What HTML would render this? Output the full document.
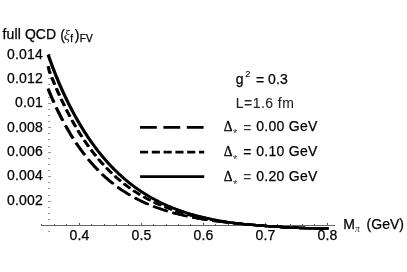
<!DOCTYPE html>
<html><head><meta charset="utf-8"><title>plot</title>
<style>
html,body{margin:0;padding:0;background:#fff;}
body{width:407px;height:272px;overflow:hidden;}
svg{display:block;will-change:transform;}
text{font-family:"Liberation Sans",sans-serif;font-size:14px;fill:#000;stroke:#000;stroke-width:0.25px;}
.ser{font-family:"Liberation Serif",serif;}
</style></head><body>
<svg width="407" height="272" viewBox="0 0 407 272">
<rect width="407" height="272" fill="#fff"/>

<line x1="41" y1="225.5" x2="335" y2="225.5" stroke="#666" stroke-width="1"/>
<line x1="41.5" y1="225.5" x2="41.5" y2="224.00" stroke="#555" stroke-width="1"/>
<line x1="54.5" y1="225.5" x2="54.5" y2="224.00" stroke="#555" stroke-width="1"/>
<line x1="66.5" y1="225.5" x2="66.5" y2="224.00" stroke="#555" stroke-width="1"/>
<line x1="79.5" y1="225.5" x2="79.5" y2="222.90" stroke="#555" stroke-width="1"/>
<line x1="91.5" y1="225.5" x2="91.5" y2="224.00" stroke="#555" stroke-width="1"/>
<line x1="104.5" y1="225.5" x2="104.5" y2="224.00" stroke="#555" stroke-width="1"/>
<line x1="116.5" y1="225.5" x2="116.5" y2="224.00" stroke="#555" stroke-width="1"/>
<line x1="128.5" y1="225.5" x2="128.5" y2="224.00" stroke="#555" stroke-width="1"/>
<line x1="141.5" y1="225.5" x2="141.5" y2="222.90" stroke="#555" stroke-width="1"/>
<line x1="153.5" y1="225.5" x2="153.5" y2="224.00" stroke="#555" stroke-width="1"/>
<line x1="166.5" y1="225.5" x2="166.5" y2="224.00" stroke="#555" stroke-width="1"/>
<line x1="178.5" y1="225.5" x2="178.5" y2="224.00" stroke="#555" stroke-width="1"/>
<line x1="190.5" y1="225.5" x2="190.5" y2="224.00" stroke="#555" stroke-width="1"/>
<line x1="203.5" y1="225.5" x2="203.5" y2="222.90" stroke="#555" stroke-width="1"/>
<line x1="215.5" y1="225.5" x2="215.5" y2="224.00" stroke="#555" stroke-width="1"/>
<line x1="228.5" y1="225.5" x2="228.5" y2="224.00" stroke="#555" stroke-width="1"/>
<line x1="240.5" y1="225.5" x2="240.5" y2="224.00" stroke="#555" stroke-width="1"/>
<line x1="252.5" y1="225.5" x2="252.5" y2="224.00" stroke="#555" stroke-width="1"/>
<line x1="265.5" y1="225.5" x2="265.5" y2="222.90" stroke="#555" stroke-width="1"/>
<line x1="277.5" y1="225.5" x2="277.5" y2="224.00" stroke="#555" stroke-width="1"/>
<line x1="290.5" y1="225.5" x2="290.5" y2="224.00" stroke="#555" stroke-width="1"/>
<line x1="302.5" y1="225.5" x2="302.5" y2="224.00" stroke="#555" stroke-width="1"/>
<line x1="314.5" y1="225.5" x2="314.5" y2="224.00" stroke="#555" stroke-width="1"/>
<line x1="327.5" y1="225.5" x2="327.5" y2="222.90" stroke="#555" stroke-width="1"/>
<line x1="48" y1="231.5" x2="50.00" y2="231.5" stroke="#999" stroke-width="1"/>
<line x1="48" y1="219.5" x2="50.00" y2="219.5" stroke="#999" stroke-width="1"/>
<line x1="48" y1="213.5" x2="50.00" y2="213.5" stroke="#999" stroke-width="1"/>
<line x1="48" y1="207.5" x2="50.00" y2="207.5" stroke="#999" stroke-width="1"/>
<line x1="48" y1="201.5" x2="51.00" y2="201.5" stroke="#999" stroke-width="1"/>
<line x1="48" y1="195.5" x2="50.00" y2="195.5" stroke="#999" stroke-width="1"/>
<line x1="48" y1="188.5" x2="50.00" y2="188.5" stroke="#999" stroke-width="1"/>
<line x1="48" y1="182.5" x2="50.00" y2="182.5" stroke="#999" stroke-width="1"/>
<line x1="48" y1="176.5" x2="51.00" y2="176.5" stroke="#999" stroke-width="1"/>
<line x1="48" y1="170.5" x2="50.00" y2="170.5" stroke="#999" stroke-width="1"/>
<line x1="48" y1="164.5" x2="50.00" y2="164.5" stroke="#999" stroke-width="1"/>
<line x1="48" y1="158.5" x2="50.00" y2="158.5" stroke="#999" stroke-width="1"/>
<line x1="48" y1="152.5" x2="51.00" y2="152.5" stroke="#999" stroke-width="1"/>
<line x1="48" y1="146.5" x2="50.00" y2="146.5" stroke="#999" stroke-width="1"/>
<line x1="48" y1="139.5" x2="50.00" y2="139.5" stroke="#999" stroke-width="1"/>
<line x1="48" y1="133.5" x2="50.00" y2="133.5" stroke="#999" stroke-width="1"/>
<line x1="48" y1="127.5" x2="51.00" y2="127.5" stroke="#999" stroke-width="1"/>
<line x1="48" y1="121.5" x2="50.00" y2="121.5" stroke="#999" stroke-width="1"/>
<line x1="48" y1="115.5" x2="50.00" y2="115.5" stroke="#999" stroke-width="1"/>
<line x1="48" y1="109.5" x2="50.00" y2="109.5" stroke="#999" stroke-width="1"/>
<line x1="48" y1="103.5" x2="51.00" y2="103.5" stroke="#999" stroke-width="1"/>
<line x1="48" y1="97.5" x2="50.00" y2="97.5" stroke="#999" stroke-width="1"/>
<line x1="48" y1="90.5" x2="50.00" y2="90.5" stroke="#999" stroke-width="1"/>
<line x1="48" y1="84.5" x2="50.00" y2="84.5" stroke="#999" stroke-width="1"/>
<line x1="48" y1="78.5" x2="51.00" y2="78.5" stroke="#999" stroke-width="1"/>
<line x1="48" y1="72.5" x2="50.00" y2="72.5" stroke="#999" stroke-width="1"/>
<line x1="48" y1="66.5" x2="50.00" y2="66.5" stroke="#999" stroke-width="1"/>
<line x1="48" y1="60.5" x2="50.00" y2="60.5" stroke="#999" stroke-width="1"/>
<line x1="48" y1="54.5" x2="51.00" y2="54.5" stroke="#999" stroke-width="1"/>
<g transform="translate(-0.45,0)" fill="none" stroke="#000" stroke-width="2.4">
<polyline points="48.20,88.72 49.28,91.78 50.36,94.34 51.44,96.85 52.52,99.31 53.61,101.73 54.69,104.10 55.77,106.43 56.85,108.71 57.93,110.95 59.01,113.15 60.09,115.31 61.17,117.42 62.25,119.50 63.34,121.54 64.42,123.54 65.50,125.50 66.58,127.43 67.66,129.32 68.74,131.18 69.82,133.00 70.90,134.78 71.98,136.54 73.06,138.26 74.15,139.94 75.23,141.60 76.31,143.23 77.39,144.82 78.47,146.39 79.55,147.92 80.63,149.43 81.71,150.91 82.79,152.36 83.88,153.78 84.96,155.18 86.04,156.55 87.12,157.90 88.20,159.22 89.28,160.52 90.36,161.79 91.44,163.04 92.52,164.26 93.61,165.46 94.69,166.64 95.77,167.80 96.85,168.93 97.93,170.05 99.01,171.14 100.09,172.22 101.17,173.27 102.25,174.30 103.34,175.32 104.42,176.31 105.50,177.29 106.58,178.25 107.66,179.19 108.74,180.11 109.82,181.01 110.90,181.90 111.98,182.78 113.06,183.63 114.15,184.47 115.23,185.30 116.31,186.10 117.39,186.90 118.47,187.68 119.55,188.44 120.63,189.19 121.71,189.93 122.79,190.65 123.88,191.36 124.96,192.05 126.04,192.74 127.12,193.41 128.20,194.06 129.28,194.71 130.36,195.34 131.44,195.96 132.52,196.57 133.61,197.17 134.69,197.76 135.77,198.33 136.85,198.90 137.93,199.45 139.01,200.00 140.09,200.53 141.17,201.06 142.25,201.57 143.34,202.08 144.42,202.57 145.50,203.06 146.58,203.54 147.66,204.00 148.74,204.46 149.82,204.91 150.90,205.36 151.98,205.79 153.06,206.22 154.15,206.64 155.23,207.05 156.31,207.45 157.39,207.85 158.47,208.23 159.55,208.61 160.63,208.99 161.71,209.36 162.79,209.72 163.88,210.07 164.96,210.42 166.04,210.76 167.12,211.09 168.20,211.42 169.28,211.74 170.36,212.06 171.44,212.37 172.52,212.67 173.61,212.97 174.69,213.26 175.77,213.55 176.85,213.83 177.93,214.11 179.01,214.38 180.09,214.65 181.17,214.91 182.25,215.16 183.34,215.42 184.42,215.66 185.50,215.91 186.58,216.15 187.66,216.38 188.74,216.61 189.82,216.83 190.90,217.06 191.98,217.27 193.06,217.49 194.15,217.69 195.23,217.90 196.31,218.10 197.39,218.30 198.47,218.49 199.55,218.68 200.63,218.87 201.71,219.05 202.79,219.23 203.88,219.41 204.96,219.58 206.04,219.76 207.12,219.92 208.20,220.09 209.28,220.25 210.36,220.41 211.44,220.56 212.52,220.71 213.61,220.86 214.69,221.00 215.77,221.14 216.85,221.27 217.93,221.40 219.01,221.53 220.09,221.65 221.17,221.77 222.25,221.89 223.34,222.01 224.42,222.13 225.50,222.24 226.58,222.36 227.66,222.47 228.74,222.58 229.82,222.69 230.90,222.80 231.98,222.91 233.06,223.02 234.15,223.13 235.23,223.24 236.31,223.35 237.39,223.46 238.47,223.56 239.55,223.67 240.63,223.77 241.71,223.88 242.79,223.98 243.88,224.08 244.96,224.18 246.04,224.28 247.12,224.38 248.20,224.47 249.28,224.57 250.36,224.67 251.44,224.76 252.52,224.86 253.61,224.95 254.69,225.05 255.77,225.14 256.85,225.23 257.93,225.32 259.01,225.41 260.09,225.50 261.17,225.59 262.25,225.68 263.34,225.76 264.42,225.85 265.50,225.93 266.58,226.01 267.66,226.10 268.74,226.18 269.82,226.26 270.90,226.33 271.98,226.41 273.06,226.49 274.15,226.56 275.23,226.64 276.31,226.71 277.39,226.78 278.47,226.85 279.55,226.92 280.63,226.99 281.71,227.05 282.79,227.12 283.88,227.18 284.96,227.24 286.04,227.30 287.12,227.36 288.20,227.42 289.28,227.47 290.36,227.52 291.44,227.58 292.52,227.63 293.61,227.68 294.69,227.72 295.77,227.77 296.85,227.81 297.93,227.85 299.01,227.89 300.09,227.93 301.17,227.97 302.25,228.00 303.34,228.03 304.42,228.06 305.50,228.09 306.58,228.12 307.66,228.14 308.74,228.16 309.82,228.18 310.90,228.20 311.98,228.22 313.06,228.24 314.15,228.25 315.23,228.27 316.31,228.28 317.39,228.29 318.47,228.31 319.55,228.32 320.63,228.33 321.71,228.34 322.79,228.35 323.88,228.36 324.96,228.37 326.04,228.38 327.12,228.39 328.20,228.39" stroke-dasharray="15.0 5.34"/>
<polyline points="48.20,66.20 49.28,70.86 50.36,73.82 51.44,76.56 52.52,79.24 53.61,81.86 54.69,84.44 55.77,86.98 56.85,89.48 57.93,91.93 59.01,94.34 60.09,96.71 61.17,99.04 62.25,101.33 63.34,103.58 64.42,105.79 65.50,107.97 66.58,110.10 67.66,112.20 68.74,114.27 69.82,116.30 70.90,118.29 71.98,120.26 73.06,122.18 74.15,124.08 75.23,125.94 76.31,127.77 77.39,129.57 78.47,131.34 79.55,133.07 80.63,134.78 81.71,136.46 82.79,138.11 83.88,139.73 84.96,141.33 86.04,142.89 87.12,144.43 88.20,145.95 89.28,147.44 90.36,148.90 91.44,150.33 92.52,151.75 93.61,153.13 94.69,154.50 95.77,155.84 96.85,157.16 97.93,158.45 99.01,159.72 100.09,160.98 101.17,162.20 102.25,163.41 103.34,164.60 104.42,165.77 105.50,166.91 106.58,168.04 107.66,169.15 108.74,170.24 109.82,171.30 110.90,172.36 111.98,173.39 113.06,174.40 114.15,175.40 115.23,176.38 116.31,177.34 117.39,178.29 118.47,179.22 119.55,180.13 120.63,181.03 121.71,181.91 122.79,182.78 123.88,183.63 124.96,184.47 126.04,185.29 127.12,186.10 128.20,186.89 129.28,187.67 130.36,188.44 131.44,189.19 132.52,189.93 133.61,190.66 134.69,191.38 135.77,192.08 136.85,192.77 137.93,193.44 139.01,194.11 140.09,194.76 141.17,195.41 142.25,196.04 143.34,196.66 144.42,197.27 145.50,197.86 146.58,198.45 147.66,199.03 148.74,199.60 149.82,200.15 150.90,200.70 151.98,201.24 153.06,201.77 154.15,202.29 155.23,202.79 156.31,203.30 157.39,203.79 158.47,204.27 159.55,204.74 160.63,205.21 161.71,205.67 162.79,206.12 163.88,206.56 164.96,206.99 166.04,207.42 167.12,207.83 168.20,208.24 169.28,208.65 170.36,209.04 171.44,209.43 172.52,209.81 173.61,210.19 174.69,210.55 175.77,210.91 176.85,211.27 177.93,211.62 179.01,211.96 180.09,212.29 181.17,212.62 182.25,212.95 183.34,213.26 184.42,213.58 185.50,213.88 186.58,214.18 187.66,214.48 188.74,214.77 189.82,215.05 190.90,215.33 191.98,215.60 193.06,215.87 194.15,216.13 195.23,216.39 196.31,216.65 197.39,216.89 198.47,217.14 199.55,217.38 200.63,217.61 201.71,217.84 202.79,218.07 203.88,218.29 204.96,218.51 206.04,218.72 207.12,218.93 208.20,219.14 209.28,219.34 210.36,219.54 211.44,219.73 212.52,219.92 213.61,220.11 214.69,220.29 215.77,220.47 216.85,220.65 217.93,220.82 219.01,220.99 220.09,221.16 221.17,221.32 222.25,221.48 223.34,221.64 224.42,221.79 225.50,221.95 226.58,222.09 227.66,222.24 228.74,222.38 229.82,222.52 230.90,222.65 231.98,222.79 233.06,222.92 234.15,223.05 235.23,223.17 236.31,223.29 237.39,223.41 238.47,223.53 239.55,223.64 240.63,223.75 241.71,223.86 242.79,223.97 243.88,224.07 244.96,224.18 246.04,224.28 247.12,224.38 248.20,224.47 249.28,224.57 250.36,224.67 251.44,224.76 252.52,224.86 253.61,224.95 254.69,225.05 255.77,225.14 256.85,225.23 257.93,225.32 259.01,225.41 260.09,225.50 261.17,225.59 262.25,225.68 263.34,225.76 264.42,225.85 265.50,225.93 266.58,226.01 267.66,226.10 268.74,226.18 269.82,226.26 270.90,226.33 271.98,226.41 273.06,226.49 274.15,226.56 275.23,226.64 276.31,226.71 277.39,226.78 278.47,226.85 279.55,226.92 280.63,226.99 281.71,227.05 282.79,227.12 283.88,227.18 284.96,227.24 286.04,227.30 287.12,227.36 288.20,227.42 289.28,227.47 290.36,227.52 291.44,227.58 292.52,227.63 293.61,227.68 294.69,227.72 295.77,227.77 296.85,227.81 297.93,227.85 299.01,227.89 300.09,227.93 301.17,227.97 302.25,228.00 303.34,228.03 304.42,228.06 305.50,228.09 306.58,228.12 307.66,228.14 308.74,228.16 309.82,228.18 310.90,228.20 311.98,228.22 313.06,228.24 314.15,228.25 315.23,228.27 316.31,228.28 317.39,228.29 318.47,228.31 319.55,228.32 320.63,228.33 321.71,228.34 322.79,228.35 323.88,228.36 324.96,228.37 326.04,228.38 327.12,228.39 328.20,228.39" stroke-dasharray="7.8 4.0"/>
<polyline points="48.20,54.76 49.28,57.90 50.36,60.94 51.44,63.91 52.52,66.81 53.61,69.64 54.69,72.41 55.77,75.12 56.85,77.78 57.93,80.38 59.01,82.93 60.09,85.43 61.17,87.89 62.25,90.30 63.34,92.67 64.42,95.00 65.50,97.29 66.58,99.54 67.66,101.75 68.74,103.92 69.82,106.05 70.90,108.15 71.98,110.22 73.06,112.25 74.15,114.25 75.23,116.22 76.31,118.15 77.39,120.05 78.47,121.92 79.55,123.76 80.63,125.57 81.71,127.36 82.79,129.11 83.88,130.83 84.96,132.53 86.04,134.20 87.12,135.84 88.20,137.46 89.28,139.05 90.36,140.62 91.44,142.15 92.52,143.67 93.61,145.16 94.69,146.63 95.77,148.07 96.85,149.49 97.93,150.88 99.01,152.26 100.09,153.61 101.17,154.94 102.25,156.25 103.34,157.53 104.42,158.80 105.50,160.04 106.58,161.27 107.66,162.47 108.74,163.66 109.82,164.83 110.90,165.97 111.98,167.10 113.06,168.21 114.15,169.30 115.23,170.38 116.31,171.43 117.39,172.47 118.47,173.50 119.55,174.50 120.63,175.49 121.71,176.46 122.79,177.42 123.88,178.36 124.96,179.29 126.04,180.20 127.12,181.09 128.20,181.97 129.28,182.84 130.36,183.69 131.44,184.53 132.52,185.35 133.61,186.16 134.69,186.96 135.77,187.74 136.85,188.51 137.93,189.27 139.01,190.01 140.09,190.75 141.17,191.47 142.25,192.17 143.34,192.87 144.42,193.55 145.50,194.23 146.58,194.89 147.66,195.54 148.74,196.18 149.82,196.80 150.90,197.42 151.98,198.03 153.06,198.63 154.15,199.21 155.23,199.79 156.31,200.36 157.39,200.91 158.47,201.46 159.55,202.00 160.63,202.53 161.71,203.05 162.79,203.56 163.88,204.06 164.96,204.55 166.04,205.04 167.12,205.51 168.20,205.98 169.28,206.44 170.36,206.89 171.44,207.34 172.52,207.77 173.61,208.20 174.69,208.62 175.77,209.03 176.85,209.44 177.93,209.84 179.01,210.23 180.09,210.61 181.17,210.99 182.25,211.36 183.34,211.73 184.42,212.08 185.50,212.43 186.58,212.78 187.66,213.12 188.74,213.45 189.82,213.78 190.90,214.10 191.98,214.41 193.06,214.72 194.15,215.02 195.23,215.32 196.31,215.61 197.39,215.90 198.47,216.18 199.55,216.45 200.63,216.72 201.71,216.99 202.79,217.25 203.88,217.50 204.96,217.75 206.04,218.00 207.12,218.24 208.20,218.48 209.28,218.71 210.36,218.94 211.44,219.16 212.52,219.38 213.61,219.59 214.69,219.81 215.77,220.02 216.85,220.23 217.93,220.43 219.01,220.63 220.09,220.83 221.17,221.03 222.25,221.21 223.34,221.40 224.42,221.58 225.50,221.76 226.58,221.93 227.66,222.10 228.74,222.26 229.82,222.41 230.90,222.57 231.98,222.72 233.06,222.86 234.15,223.00 235.23,223.13 236.31,223.27 237.39,223.39 238.47,223.51 239.55,223.63 240.63,223.75 241.71,223.86 242.79,223.97 243.88,224.08 244.96,224.18 246.04,224.28 247.12,224.38 248.20,224.48 249.28,224.57 250.36,224.67 251.44,224.76 252.52,224.86 253.61,224.95 254.69,225.05 255.77,225.14 256.85,225.23 257.93,225.32 259.01,225.41 260.09,225.50 261.17,225.59 262.25,225.68 263.34,225.76 264.42,225.85 265.50,225.93 266.58,226.01 267.66,226.10 268.74,226.18 269.82,226.26 270.90,226.33 271.98,226.41 273.06,226.49 274.15,226.56 275.23,226.64 276.31,226.71 277.39,226.78 278.47,226.85 279.55,226.92 280.63,226.99 281.71,227.05 282.79,227.12 283.88,227.18 284.96,227.24 286.04,227.30 287.12,227.36 288.20,227.42 289.28,227.47 290.36,227.52 291.44,227.58 292.52,227.63 293.61,227.68 294.69,227.72 295.77,227.77 296.85,227.81 297.93,227.85 299.01,227.89 300.09,227.93 301.17,227.97 302.25,228.00 303.34,228.03 304.42,228.06 305.50,228.09 306.58,228.12 307.66,228.14 308.74,228.16 309.82,228.18 310.90,228.20 311.98,228.22 313.06,228.24 314.15,228.25 315.23,228.27 316.31,228.28 317.39,228.29 318.47,228.31 319.55,228.32 320.63,228.33 321.71,228.34 322.79,228.35 323.88,228.36 324.96,228.37 326.04,228.38 327.12,228.39 328.20,228.39"/>
</g>
<g transform="translate(0.45,0)" fill="none" stroke="#000" stroke-width="2.4">
<polyline points="48.20,88.72 49.28,91.78 50.36,94.34 51.44,96.85 52.52,99.31 53.61,101.73 54.69,104.10 55.77,106.43 56.85,108.71 57.93,110.95 59.01,113.15 60.09,115.31 61.17,117.42 62.25,119.50 63.34,121.54 64.42,123.54 65.50,125.50 66.58,127.43 67.66,129.32 68.74,131.18 69.82,133.00 70.90,134.78 71.98,136.54 73.06,138.26 74.15,139.94 75.23,141.60 76.31,143.23 77.39,144.82 78.47,146.39 79.55,147.92 80.63,149.43 81.71,150.91 82.79,152.36 83.88,153.78 84.96,155.18 86.04,156.55 87.12,157.90 88.20,159.22 89.28,160.52 90.36,161.79 91.44,163.04 92.52,164.26 93.61,165.46 94.69,166.64 95.77,167.80 96.85,168.93 97.93,170.05 99.01,171.14 100.09,172.22 101.17,173.27 102.25,174.30 103.34,175.32 104.42,176.31 105.50,177.29 106.58,178.25 107.66,179.19 108.74,180.11 109.82,181.01 110.90,181.90 111.98,182.78 113.06,183.63 114.15,184.47 115.23,185.30 116.31,186.10 117.39,186.90 118.47,187.68 119.55,188.44 120.63,189.19 121.71,189.93 122.79,190.65 123.88,191.36 124.96,192.05 126.04,192.74 127.12,193.41 128.20,194.06 129.28,194.71 130.36,195.34 131.44,195.96 132.52,196.57 133.61,197.17 134.69,197.76 135.77,198.33 136.85,198.90 137.93,199.45 139.01,200.00 140.09,200.53 141.17,201.06 142.25,201.57 143.34,202.08 144.42,202.57 145.50,203.06 146.58,203.54 147.66,204.00 148.74,204.46 149.82,204.91 150.90,205.36 151.98,205.79 153.06,206.22 154.15,206.64 155.23,207.05 156.31,207.45 157.39,207.85 158.47,208.23 159.55,208.61 160.63,208.99 161.71,209.36 162.79,209.72 163.88,210.07 164.96,210.42 166.04,210.76 167.12,211.09 168.20,211.42 169.28,211.74 170.36,212.06 171.44,212.37 172.52,212.67 173.61,212.97 174.69,213.26 175.77,213.55 176.85,213.83 177.93,214.11 179.01,214.38 180.09,214.65 181.17,214.91 182.25,215.16 183.34,215.42 184.42,215.66 185.50,215.91 186.58,216.15 187.66,216.38 188.74,216.61 189.82,216.83 190.90,217.06 191.98,217.27 193.06,217.49 194.15,217.69 195.23,217.90 196.31,218.10 197.39,218.30 198.47,218.49 199.55,218.68 200.63,218.87 201.71,219.05 202.79,219.23 203.88,219.41 204.96,219.58 206.04,219.76 207.12,219.92 208.20,220.09 209.28,220.25 210.36,220.41 211.44,220.56 212.52,220.71 213.61,220.86 214.69,221.00 215.77,221.14 216.85,221.27 217.93,221.40 219.01,221.53 220.09,221.65 221.17,221.77 222.25,221.89 223.34,222.01 224.42,222.13 225.50,222.24 226.58,222.36 227.66,222.47 228.74,222.58 229.82,222.69 230.90,222.80 231.98,222.91 233.06,223.02 234.15,223.13 235.23,223.24 236.31,223.35 237.39,223.46 238.47,223.56 239.55,223.67 240.63,223.77 241.71,223.88 242.79,223.98 243.88,224.08 244.96,224.18 246.04,224.28 247.12,224.38 248.20,224.47 249.28,224.57 250.36,224.67 251.44,224.76 252.52,224.86 253.61,224.95 254.69,225.05 255.77,225.14 256.85,225.23 257.93,225.32 259.01,225.41 260.09,225.50 261.17,225.59 262.25,225.68 263.34,225.76 264.42,225.85 265.50,225.93 266.58,226.01 267.66,226.10 268.74,226.18 269.82,226.26 270.90,226.33 271.98,226.41 273.06,226.49 274.15,226.56 275.23,226.64 276.31,226.71 277.39,226.78 278.47,226.85 279.55,226.92 280.63,226.99 281.71,227.05 282.79,227.12 283.88,227.18 284.96,227.24 286.04,227.30 287.12,227.36 288.20,227.42 289.28,227.47 290.36,227.52 291.44,227.58 292.52,227.63 293.61,227.68 294.69,227.72 295.77,227.77 296.85,227.81 297.93,227.85 299.01,227.89 300.09,227.93 301.17,227.97 302.25,228.00 303.34,228.03 304.42,228.06 305.50,228.09 306.58,228.12 307.66,228.14 308.74,228.16 309.82,228.18 310.90,228.20 311.98,228.22 313.06,228.24 314.15,228.25 315.23,228.27 316.31,228.28 317.39,228.29 318.47,228.31 319.55,228.32 320.63,228.33 321.71,228.34 322.79,228.35 323.88,228.36 324.96,228.37 326.04,228.38 327.12,228.39 328.20,228.39" stroke-dasharray="15.0 5.34"/>
<polyline points="48.20,66.20 49.28,70.86 50.36,73.82 51.44,76.56 52.52,79.24 53.61,81.86 54.69,84.44 55.77,86.98 56.85,89.48 57.93,91.93 59.01,94.34 60.09,96.71 61.17,99.04 62.25,101.33 63.34,103.58 64.42,105.79 65.50,107.97 66.58,110.10 67.66,112.20 68.74,114.27 69.82,116.30 70.90,118.29 71.98,120.26 73.06,122.18 74.15,124.08 75.23,125.94 76.31,127.77 77.39,129.57 78.47,131.34 79.55,133.07 80.63,134.78 81.71,136.46 82.79,138.11 83.88,139.73 84.96,141.33 86.04,142.89 87.12,144.43 88.20,145.95 89.28,147.44 90.36,148.90 91.44,150.33 92.52,151.75 93.61,153.13 94.69,154.50 95.77,155.84 96.85,157.16 97.93,158.45 99.01,159.72 100.09,160.98 101.17,162.20 102.25,163.41 103.34,164.60 104.42,165.77 105.50,166.91 106.58,168.04 107.66,169.15 108.74,170.24 109.82,171.30 110.90,172.36 111.98,173.39 113.06,174.40 114.15,175.40 115.23,176.38 116.31,177.34 117.39,178.29 118.47,179.22 119.55,180.13 120.63,181.03 121.71,181.91 122.79,182.78 123.88,183.63 124.96,184.47 126.04,185.29 127.12,186.10 128.20,186.89 129.28,187.67 130.36,188.44 131.44,189.19 132.52,189.93 133.61,190.66 134.69,191.38 135.77,192.08 136.85,192.77 137.93,193.44 139.01,194.11 140.09,194.76 141.17,195.41 142.25,196.04 143.34,196.66 144.42,197.27 145.50,197.86 146.58,198.45 147.66,199.03 148.74,199.60 149.82,200.15 150.90,200.70 151.98,201.24 153.06,201.77 154.15,202.29 155.23,202.79 156.31,203.30 157.39,203.79 158.47,204.27 159.55,204.74 160.63,205.21 161.71,205.67 162.79,206.12 163.88,206.56 164.96,206.99 166.04,207.42 167.12,207.83 168.20,208.24 169.28,208.65 170.36,209.04 171.44,209.43 172.52,209.81 173.61,210.19 174.69,210.55 175.77,210.91 176.85,211.27 177.93,211.62 179.01,211.96 180.09,212.29 181.17,212.62 182.25,212.95 183.34,213.26 184.42,213.58 185.50,213.88 186.58,214.18 187.66,214.48 188.74,214.77 189.82,215.05 190.90,215.33 191.98,215.60 193.06,215.87 194.15,216.13 195.23,216.39 196.31,216.65 197.39,216.89 198.47,217.14 199.55,217.38 200.63,217.61 201.71,217.84 202.79,218.07 203.88,218.29 204.96,218.51 206.04,218.72 207.12,218.93 208.20,219.14 209.28,219.34 210.36,219.54 211.44,219.73 212.52,219.92 213.61,220.11 214.69,220.29 215.77,220.47 216.85,220.65 217.93,220.82 219.01,220.99 220.09,221.16 221.17,221.32 222.25,221.48 223.34,221.64 224.42,221.79 225.50,221.95 226.58,222.09 227.66,222.24 228.74,222.38 229.82,222.52 230.90,222.65 231.98,222.79 233.06,222.92 234.15,223.05 235.23,223.17 236.31,223.29 237.39,223.41 238.47,223.53 239.55,223.64 240.63,223.75 241.71,223.86 242.79,223.97 243.88,224.07 244.96,224.18 246.04,224.28 247.12,224.38 248.20,224.47 249.28,224.57 250.36,224.67 251.44,224.76 252.52,224.86 253.61,224.95 254.69,225.05 255.77,225.14 256.85,225.23 257.93,225.32 259.01,225.41 260.09,225.50 261.17,225.59 262.25,225.68 263.34,225.76 264.42,225.85 265.50,225.93 266.58,226.01 267.66,226.10 268.74,226.18 269.82,226.26 270.90,226.33 271.98,226.41 273.06,226.49 274.15,226.56 275.23,226.64 276.31,226.71 277.39,226.78 278.47,226.85 279.55,226.92 280.63,226.99 281.71,227.05 282.79,227.12 283.88,227.18 284.96,227.24 286.04,227.30 287.12,227.36 288.20,227.42 289.28,227.47 290.36,227.52 291.44,227.58 292.52,227.63 293.61,227.68 294.69,227.72 295.77,227.77 296.85,227.81 297.93,227.85 299.01,227.89 300.09,227.93 301.17,227.97 302.25,228.00 303.34,228.03 304.42,228.06 305.50,228.09 306.58,228.12 307.66,228.14 308.74,228.16 309.82,228.18 310.90,228.20 311.98,228.22 313.06,228.24 314.15,228.25 315.23,228.27 316.31,228.28 317.39,228.29 318.47,228.31 319.55,228.32 320.63,228.33 321.71,228.34 322.79,228.35 323.88,228.36 324.96,228.37 326.04,228.38 327.12,228.39 328.20,228.39" stroke-dasharray="7.8 4.0"/>
<polyline points="48.20,54.76 49.28,57.90 50.36,60.94 51.44,63.91 52.52,66.81 53.61,69.64 54.69,72.41 55.77,75.12 56.85,77.78 57.93,80.38 59.01,82.93 60.09,85.43 61.17,87.89 62.25,90.30 63.34,92.67 64.42,95.00 65.50,97.29 66.58,99.54 67.66,101.75 68.74,103.92 69.82,106.05 70.90,108.15 71.98,110.22 73.06,112.25 74.15,114.25 75.23,116.22 76.31,118.15 77.39,120.05 78.47,121.92 79.55,123.76 80.63,125.57 81.71,127.36 82.79,129.11 83.88,130.83 84.96,132.53 86.04,134.20 87.12,135.84 88.20,137.46 89.28,139.05 90.36,140.62 91.44,142.15 92.52,143.67 93.61,145.16 94.69,146.63 95.77,148.07 96.85,149.49 97.93,150.88 99.01,152.26 100.09,153.61 101.17,154.94 102.25,156.25 103.34,157.53 104.42,158.80 105.50,160.04 106.58,161.27 107.66,162.47 108.74,163.66 109.82,164.83 110.90,165.97 111.98,167.10 113.06,168.21 114.15,169.30 115.23,170.38 116.31,171.43 117.39,172.47 118.47,173.50 119.55,174.50 120.63,175.49 121.71,176.46 122.79,177.42 123.88,178.36 124.96,179.29 126.04,180.20 127.12,181.09 128.20,181.97 129.28,182.84 130.36,183.69 131.44,184.53 132.52,185.35 133.61,186.16 134.69,186.96 135.77,187.74 136.85,188.51 137.93,189.27 139.01,190.01 140.09,190.75 141.17,191.47 142.25,192.17 143.34,192.87 144.42,193.55 145.50,194.23 146.58,194.89 147.66,195.54 148.74,196.18 149.82,196.80 150.90,197.42 151.98,198.03 153.06,198.63 154.15,199.21 155.23,199.79 156.31,200.36 157.39,200.91 158.47,201.46 159.55,202.00 160.63,202.53 161.71,203.05 162.79,203.56 163.88,204.06 164.96,204.55 166.04,205.04 167.12,205.51 168.20,205.98 169.28,206.44 170.36,206.89 171.44,207.34 172.52,207.77 173.61,208.20 174.69,208.62 175.77,209.03 176.85,209.44 177.93,209.84 179.01,210.23 180.09,210.61 181.17,210.99 182.25,211.36 183.34,211.73 184.42,212.08 185.50,212.43 186.58,212.78 187.66,213.12 188.74,213.45 189.82,213.78 190.90,214.10 191.98,214.41 193.06,214.72 194.15,215.02 195.23,215.32 196.31,215.61 197.39,215.90 198.47,216.18 199.55,216.45 200.63,216.72 201.71,216.99 202.79,217.25 203.88,217.50 204.96,217.75 206.04,218.00 207.12,218.24 208.20,218.48 209.28,218.71 210.36,218.94 211.44,219.16 212.52,219.38 213.61,219.59 214.69,219.81 215.77,220.02 216.85,220.23 217.93,220.43 219.01,220.63 220.09,220.83 221.17,221.03 222.25,221.21 223.34,221.40 224.42,221.58 225.50,221.76 226.58,221.93 227.66,222.10 228.74,222.26 229.82,222.41 230.90,222.57 231.98,222.72 233.06,222.86 234.15,223.00 235.23,223.13 236.31,223.27 237.39,223.39 238.47,223.51 239.55,223.63 240.63,223.75 241.71,223.86 242.79,223.97 243.88,224.08 244.96,224.18 246.04,224.28 247.12,224.38 248.20,224.48 249.28,224.57 250.36,224.67 251.44,224.76 252.52,224.86 253.61,224.95 254.69,225.05 255.77,225.14 256.85,225.23 257.93,225.32 259.01,225.41 260.09,225.50 261.17,225.59 262.25,225.68 263.34,225.76 264.42,225.85 265.50,225.93 266.58,226.01 267.66,226.10 268.74,226.18 269.82,226.26 270.90,226.33 271.98,226.41 273.06,226.49 274.15,226.56 275.23,226.64 276.31,226.71 277.39,226.78 278.47,226.85 279.55,226.92 280.63,226.99 281.71,227.05 282.79,227.12 283.88,227.18 284.96,227.24 286.04,227.30 287.12,227.36 288.20,227.42 289.28,227.47 290.36,227.52 291.44,227.58 292.52,227.63 293.61,227.68 294.69,227.72 295.77,227.77 296.85,227.81 297.93,227.85 299.01,227.89 300.09,227.93 301.17,227.97 302.25,228.00 303.34,228.03 304.42,228.06 305.50,228.09 306.58,228.12 307.66,228.14 308.74,228.16 309.82,228.18 310.90,228.20 311.98,228.22 313.06,228.24 314.15,228.25 315.23,228.27 316.31,228.28 317.39,228.29 318.47,228.31 319.55,228.32 320.63,228.33 321.71,228.34 322.79,228.35 323.88,228.36 324.96,228.37 326.04,228.38 327.12,228.39 328.20,228.39"/>
</g>
<line x1="140" y1="127.4" x2="204.2" y2="127.4" stroke="#000" stroke-width="2.7" stroke-dasharray="16.8 6.6"/>
<line x1="140" y1="152.2" x2="204.2" y2="152.2" stroke="#000" stroke-width="2.7" stroke-dasharray="8.1 3.7"/>
<line x1="140.1" y1="176.6" x2="204.2" y2="176.6" stroke="#000" stroke-width="2.7"/>
<text x="42.9" y="58.83" text-anchor="end" letter-spacing="0.18">0.014</text>
<text x="42.9" y="83.09" text-anchor="end" letter-spacing="0.18">0.012</text>
<text x="42.9" y="107.35" text-anchor="end" letter-spacing="0.18">0.01</text>
<text x="42.9" y="131.61" text-anchor="end" letter-spacing="0.18">0.008</text>
<text x="42.9" y="156.02" text-anchor="end" letter-spacing="0.18">0.006</text>
<text x="42.9" y="180.43" text-anchor="end" letter-spacing="0.18">0.004</text>
<text x="42.9" y="204.89" text-anchor="end" letter-spacing="0.18">0.002</text>
<text x="79.50" y="240.3" text-anchor="middle" letter-spacing="0.2">0.4</text>
<text x="141.50" y="240.3" text-anchor="middle" letter-spacing="0.2">0.5</text>
<text x="203.50" y="240.3" text-anchor="middle" letter-spacing="0.2">0.6</text>
<text x="265.50" y="240.3" text-anchor="middle" letter-spacing="0.2">0.7</text>
<text x="327.50" y="240.3" text-anchor="middle" letter-spacing="0.2">0.8</text>
<text x="2.6" y="39.0" letter-spacing="0.1">full QCD</text>
<text x="60.3" y="39.7">(</text>
<text class="ser" x="63.8" y="39.6" style="font-style:italic;font-size:14.5px;stroke:none;fill:#222">ξ</text>
<text x="70.3" y="42.4" style="font-size:10px">f</text>
<text x="74.8" y="39.7">)</text>
<text x="79.7" y="42.4" style="font-size:10px" letter-spacing="0.3">FV</text>
<text x="343.2" y="228.7">M</text>
<text class="ser" x="354.9" y="231.5" style="font-size:9.5px;font-style:italic;stroke:none;fill:#333">π</text>
<text x="366.6" y="229.0">(GeV)</text>
<text x="235.7" y="84.4">g</text>
<text x="245.2" y="77.4" style="font-size:9.2px;stroke-width:0.1px">2</text>
<text x="255.9" y="85.2">=</text>
<text x="268.1" y="84.4" letter-spacing="0.1">0.3</text>
<text x="235.8" y="107.6" letter-spacing="0.45" style="stroke-width:0.1px;fill:#222;stroke:#222">L=1.6 fm</text>
<text class="ser" x="223.7" y="131.3" style="font-size:13.6px;stroke-width:0.3px">Δ</text>
<text x="232.9" y="137.20000000000002" style="font-size:11px;stroke:none;fill:#333">*</text>
<text x="243.3" y="132.8" style="stroke-width:0.0px;fill:#333">=</text>
<text x="256.2" y="131.3" letter-spacing="0.28">0.00 GeV</text>
<text class="ser" x="223.7" y="155.9" style="font-size:13.6px;stroke-width:0.3px">Δ</text>
<text x="232.9" y="162.9" style="font-size:11px;stroke:none;fill:#333">*</text>
<text x="243.3" y="157.4" style="stroke-width:0.15px;fill:#000">=</text>
<text x="256.2" y="155.9" letter-spacing="0.28">0.10 GeV</text>
<text class="ser" x="223.7" y="180.8" style="font-size:13.6px;stroke-width:0.3px">Δ</text>
<text x="232.9" y="187.8" style="font-size:11px;stroke:none;fill:#333">*</text>
<text x="243.3" y="182.3" style="stroke-width:0.0px;fill:#333">=</text>
<text x="256.2" y="180.8" letter-spacing="0.28">0.20 GeV</text>
</svg></body></html>
